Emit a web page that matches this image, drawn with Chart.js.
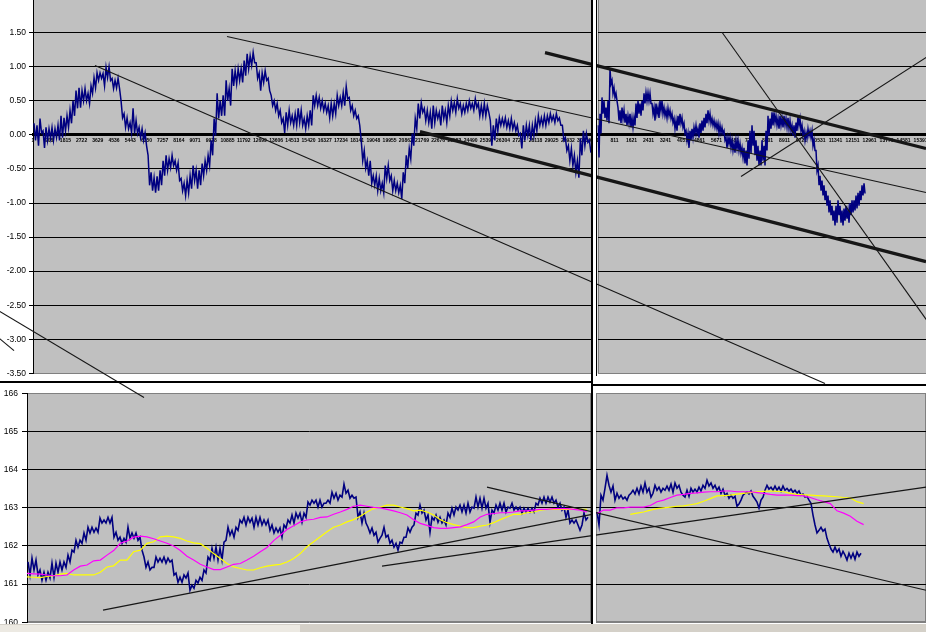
<!DOCTYPE html>
<html><head><meta charset="utf-8">
<script src="https://cdn.jsdelivr.net/npm/chart.js@4/dist/chart.umd.min.js"></script>
<style>
html,body{margin:0;padding:0;background:#fff;width:926px;height:632px;overflow:hidden;position:relative}
canvas{position:absolute;left:-10px;top:-10px;width:946px;height:652px}
.d{position:absolute;background:#000}
.w{position:absolute;background:#fff}
</style></head><body>
<canvas id="bl" width="946" height="652"></canvas>
<canvas id="br" width="946" height="652"></canvas>
<canvas id="tr" width="946" height="652"></canvas>
<canvas id="tl" width="946" height="652"></canvas>
<div class="w" style="left:593px;top:0;width:3px;height:384px"></div>
<div class="w" style="left:593px;top:386px;width:3px;height:238px"></div>
<div class="d" style="left:591px;top:0;width:2px;height:624px"></div>
<div class="d" style="left:596px;top:0;width:1px;height:376px"></div>
<div class="d" style="left:0;top:381px;width:593px;height:2px"></div>
<div class="d" style="left:592px;top:384px;width:334px;height:2px"></div>
<div style="position:absolute;left:0;top:624px;width:926px;height:8px;background:#d4d0c8"></div>
<div style="position:absolute;left:0;top:625px;width:300px;height:7px;background:#ece9e2"></div>
<script>
// ---------- tick labels ----------
const tlTicks = [1,908,1815,2722,3629,4536,5443,6350,7257,8164,9071,9978,10885,11792,12699,13606,14513,15420,16327,17234,18141,19048,19955,20862,21769,22676,23583,24490,25397,26304,27211,28118,29025,29932,30839];
const trTicks = [1,811,1621,2431,3241,4051,4861,5671,6481,7291,8101,8911,9721,10531,11341,12151,12961,13771,14581,15391];

// ---------- top-left spread series (index start / step) ----------
const tlStart = 57, tlStep = 84;
const tlSpread = [
0.17,-0.08,0.14,-0.16,0.24,0.03,0.06,-0.19,0.11,-0.08,0.09,-0.05,0.11,-0.08,0.09,-0.04,0.14,-0.08,0.28,-0.04,
0.25,0.06,0.28,0.11,0.36,0.17,0.50,0.28,0.65,0.39,0.69,0.40,0.65,0.50,0.68,0.50,0.61,0.46,0.72,0.61,
0.84,0.69,0.91,0.80,0.91,0.83,0.90,0.72,0.99,0.84,1.00,0.80,0.83,0.68,0.80,0.69,0.83,0.68,0.50,0.25,
0.31,0.11,0.25,0.09,0.18,0.03,0.39,0.02,0.21,0.02,0.11,-0.04,0.09,-0.08,0.03,-0.16,-0.30,-0.74,-0.55,-0.82,
-0.63,-0.85,-0.61,-0.82,-0.52,-0.74,-0.38,-0.60,-0.30,-0.52,-0.35,-0.48,-0.30,-0.45,-0.38,-0.52,-0.41,-0.67,-0.64,-0.82,
-0.71,-0.89,-0.67,-0.85,-0.60,-0.79,-0.45,-0.67,-0.52,-0.79,-0.52,-0.74,-0.42,-0.60,-0.38,-0.52,-0.30,-0.45,-0.08,-0.30,
0.24,-0.01,0.61,0.24,0.50,0.28,0.58,0.28,0.80,0.50,0.68,0.43,0.97,0.72,0.94,0.75,0.97,0.80,0.97,0.77,
1.09,0.87,1.19,0.97,1.16,1.02,1.21,1.06,1.06,0.83,0.91,0.65,0.91,0.77,0.94,0.80,0.83,0.65,0.58,0.43,
0.50,0.36,0.46,0.28,0.36,0.18,0.24,0.03,0.33,0.14,0.36,0.18,0.28,0.14,0.31,0.14,0.39,0.18,0.36,0.14,
0.24,0.09,0.28,0.14,0.36,0.14,0.58,0.43,0.58,0.43,0.55,0.39,0.50,0.36,0.46,0.33,0.43,0.25,0.46,0.28,
0.46,0.31,0.58,0.43,0.55,0.43,0.62,0.43,0.71,0.53,0.55,0.36,0.43,0.28,0.36,0.24,0.28,0.14,-0.08,-0.38,
-0.23,-0.49,-0.38,-0.60,-0.38,-0.71,-0.60,-0.74,-0.60,-0.82,-0.64,-0.82,-0.71,-0.85,-0.45,-0.64,-0.45,-0.67,-0.60,-0.82,
-0.67,-0.82,-0.71,-0.85,-0.74,-0.94,-0.55,-0.71,-0.30,-0.49,-0.20,-0.35,0.02,-0.16,0.24,0.09,0.46,0.24,0.47,0.33,
0.39,0.21,0.36,0.18,0.33,0.09,0.43,0.18,0.36,0.24,0.33,0.14,0.43,0.24,0.36,0.18,0.43,0.28,0.50,0.36,
0.47,0.33,0.53,0.39,0.46,0.31,0.43,0.33,0.46,0.36,0.50,0.39,0.46,0.36,0.53,0.40,0.46,0.28,0.43,0.28,
0.46,0.28,0.43,0.33,0.21,-0.16,0.14,-0.08,0.24,0.06,0.25,0.14,0.24,0.14,0.25,0.11,0.21,0.09,0.24,0.09,
0.18,0.06,0.14,-0.01,0.02,-0.20,0.14,-0.08,0.14,-0.01,0.14,-0.08,0.14,-0.01,0.21,0.06,0.28,0.14,0.25,0.14,
0.28,0.14,0.28,0.18,0.31,0.21,0.28,0.18,0.31,0.21,0.25,0.14,0.14,-0.08,-0.04,-0.23,-0.16,-0.38,-0.20,-0.45,
-0.30,-0.55,-0.38,-0.63,-0.05,-0.30,0.06,-0.16,0.02,-0.11,-0.08,-0.26];

// ---------- top-right spread series ----------
const trStart = 25, trStep = 47.64;
const trSpread = [
0.14,-0.33,0.31,0.02,0.55,0.31,0.50,0.25,0.40,0.21,0.50,0.17,0.97,0.75,0.80,0.61,0.69,0.55,0.61,0.50,
0.40,0.21,0.36,0.17,0.40,0.24,0.36,0.18,0.31,0.14,0.28,0.17,0.31,0.11,0.25,0.11,0.25,0.14,0.46,0.25,
0.50,0.31,0.46,0.28,0.50,0.36,0.61,0.46,0.62,0.50,0.62,0.50,0.61,0.46,0.46,0.31,0.40,0.21,0.46,0.31,
0.40,0.25,0.50,0.36,0.50,0.31,0.40,0.28,0.36,0.25,0.39,0.28,0.36,0.24,0.31,0.18,0.24,0.09,0.21,0.06,
0.28,0.14,0.31,0.17,0.25,0.11,0.17,0.02,0.06,-0.08,0.02,-0.19,0.06,-0.08,0.09,-0.04,0.11,0.02,0.14,0.02,
0.09,-0.04,0.17,0.03,0.21,0.06,0.25,0.11,0.31,0.17,0.36,0.21,0.31,0.17,0.24,0.14,0.21,0.11,0.18,0.09,
0.17,0.03,0.14,0.03,0.11,0.02,0.06,-0.08,-0.04,-0.19,-0.04,-0.13,-0.04,-0.19,-0.08,-0.23,-0.13,-0.26,-0.08,-0.20,
-0.08,-0.23,-0.13,-0.27,-0.19,-0.33,-0.19,-0.42,-0.23,-0.45,-0.08,-0.35,0.06,-0.27,0.14,-0.16,0.06,-0.30,-0.08,-0.38,
-0.16,-0.45,-0.23,-0.45,-0.08,-0.38,-0.16,-0.45,0.06,-0.23,0.28,-0.01,0.24,0.09,0.33,0.14,0.33,0.18,0.28,0.14,
0.24,0.09,0.28,0.14,0.25,0.11,0.28,0.14,0.24,0.11,0.25,0.09,0.21,0.06,0.14,-0.01,0.14,-0.04,0.18,0.06,
0.28,0.14,0.24,0.06,0.14,-0.01,0.06,-0.08,0.03,-0.05,0.09,-0.01,0.06,-0.04,0.06,-0.16,-0.08,-0.23,-0.23,-0.52,
-0.45,-0.74,-0.60,-0.82,-0.67,-0.89,-0.74,-0.96,-0.82,-1.04,-0.89,-1.14,-0.96,-1.18,-1.04,-1.26,-1.11,-1.33,-1.04,-1.29,
-0.96,-1.18,-1.04,-1.29,-1.11,-1.33,-1.08,-1.26,-1.04,-1.23,-1.11,-1.29,-1.00,-1.18,-0.96,-1.14,-0.96,-1.11,-0.89,-1.08,
-0.85,-1.04,-0.82,-0.96,-0.74,-0.89,-0.71,-0.86];

// ---------- bottom-left price, moving averages ----------
const blStart = 56, blStep = 112;
const blPrice = [
161.58,161.24,161.68,161.37,161.63,161.24,161.37,161.10,161.31,161.10,
161.31,161.16,161.55,161.18,161.55,161.31,161.58,161.37,161.58,161.44,
161.76,161.58,161.89,161.84,162.15,161.97,162.15,162.07,162.34,162.15,
162.49,162.34,162.49,162.36,162.47,162.36,162.73,162.60,162.68,162.60,
162.75,162.60,162.75,162.23,162.36,162.15,162.23,162.07,162.20,162.10,
162.49,162.20,162.34,162.20,162.34,162.15,162.23,161.89,161.71,161.44,
161.58,161.37,161.44,161.44,161.71,161.58,161.68,161.58,161.71,161.55,
161.68,161.58,161.63,161.24,161.29,161.05,161.18,161.05,161.24,161.16,
161.29,160.84,160.97,160.89,161.10,161.03,161.18,161.10,161.37,161.29,
161.71,161.63,161.94,161.68,161.97,161.63,161.94,161.63,162.10,162.15,
162.49,162.28,162.41,162.23,162.49,162.41,162.68,162.60,162.75,162.55,
162.75,162.62,162.73,162.49,162.75,162.55,162.75,162.55,162.68,162.55,
162.68,162.41,162.55,162.34,162.47,162.36,162.47,162.23,162.55,162.47,
162.68,162.60,162.81,162.60,162.86,162.73,162.86,162.62,162.86,162.75,
163.15,163.07,163.20,163.12,163.20,163.02,163.20,163.02,163.12,163.12,
163.20,163.12,163.41,163.25,163.38,163.20,163.33,163.28,163.62,163.38,
163.46,163.25,163.33,163.25,163.28,162.75,162.89,162.60,162.86,162.60,
162.49,162.34,162.47,162.28,162.36,162.10,162.20,162.28,162.49,162.23,
162.28,162.07,162.15,161.97,162.07,161.89,162.10,162.07,162.23,162.23,
162.47,162.36,162.49,162.55,162.86,162.81,163.07,162.86,162.94,162.68,
162.81,162.36,162.75,162.68,162.81,162.62,162.75,162.60,162.68,162.55,
162.86,162.75,162.99,162.81,163.02,162.94,163.07,162.89,163.07,162.86,
163.12,162.89,163.02,162.99,163.28,163.02,163.25,162.99,163.25,162.99,
163.12,162.62,162.94,162.86,163.07,162.94,163.12,162.94,163.12,162.89,
163.02,162.99,163.12,162.94,163.02,162.94,163.02,162.86,162.99,162.89,
162.99,162.89,162.99,162.89,163.12,163.07,163.25,163.12,163.28,163.12,
163.28,163.15,163.28,163.12,163.20,163.02,163.12,162.94,163.02,162.75,
162.94,162.60,162.68,162.60,162.68,162.55,162.41,162.55,162.86,162.68,
162.75];
const maStep = 373.3;
const blMaStart = 0;
const blMagenta = [
161.28,161.27,161.26,161.24,161.22,161.22,161.24,161.37,161.47,161.50,
161.61,161.63,161.76,161.88,162.07,162.13,162.23,162.26,162.24,162.19,
162.13,162.07,162.00,161.88,161.73,161.63,161.52,161.45,161.38,161.38,
161.45,161.52,161.54,161.63,161.73,161.85,161.96,162.14,162.28,162.43,
162.53,162.63,162.68,162.70,162.75,162.76,162.83,162.89,162.96,163.04,
163.07,163.04,163.01,163.00,162.96,162.92,162.87,162.81,162.69,162.59,
162.54,162.48,162.46,162.46,162.48,162.50,162.56,162.63,162.76,162.83,
162.85,162.87,162.87,162.89,162.92,162.92,162.94,162.96,162.96,162.98,
162.98,162.98,162.96,162.94,162.89];
const blYellow = [
161.19,161.18,161.17,161.20,161.22,161.26,161.28,161.24,161.24,161.24,
161.24,161.31,161.45,161.48,161.63,161.63,161.85,161.89,162.07,162.11,
162.24,162.26,162.24,162.20,162.13,162.08,162.06,161.94,161.80,161.67,
161.54,161.45,161.41,161.37,161.37,161.43,161.47,161.50,161.52,161.58,
161.67,161.80,161.98,162.11,162.24,162.37,162.49,162.55,162.63,162.69,
162.78,162.89,162.98,163.02,163.07,163.07,163.02,162.98,162.92,162.94,
162.89,162.81,162.69,162.61,162.56,162.52,162.48,162.48,162.52,162.55,
162.61,162.69,162.76,162.83,162.83,162.87,162.89,162.94,162.96,162.96,
162.96,162.96,162.96,162.96,162.96];

// ---------- bottom-right price, moving averages ----------
const brStart = 56, brStep = 112;
const brPrice = [
162.89,162.55,163.33,163.20,163.51,163.85,163.59,163.41,163.57,163.20,
163.38,163.25,163.33,163.23,163.28,163.20,163.33,163.38,163.46,163.36,
163.51,163.36,163.57,163.41,163.65,163.41,163.51,163.28,163.38,163.59,
163.46,163.54,163.41,163.51,163.46,163.57,163.46,163.62,163.41,163.65,
163.51,163.59,163.41,163.33,163.28,163.46,163.30,163.51,163.41,163.49,
163.41,163.54,163.44,163.59,163.51,163.72,163.57,163.65,163.51,163.59,
163.46,163.54,163.38,163.49,163.33,163.38,163.25,163.33,163.25,163.30,
163.04,163.10,163.20,163.33,163.38,163.41,163.36,163.44,163.30,163.23,
163.15,162.99,163.20,163.28,163.46,163.59,163.49,163.54,163.46,163.57,
163.46,163.54,163.44,163.57,163.46,163.51,163.44,163.49,163.41,163.46,
163.38,163.44,163.33,163.36,163.28,163.30,163.20,163.12,162.81,162.55,
162.34,162.41,162.49,162.39,162.44,162.20,162.05,161.92,161.84,161.97,
161.84,161.92,161.73,161.86,161.76,161.63,161.81,161.68,161.81,161.65,
161.84,161.73,161.81];
const brMaStart = 56;
const brMagenta = [
162.85,162.94,162.94,163.00,163.00,163.02,163.02,163.02,163.06,163.16,
163.20,163.27,163.33,163.35,163.38,163.39,163.41,163.42,163.42,163.44,
163.44,163.42,163.42,163.42,163.40,163.38,163.35,163.33,163.33,163.33,
163.32,163.31,163.27,163.21,163.16,163.11,162.92,162.86,162.78,162.65,
162.56];
const brYellowStart = 1921;
const brYellow = [
162.83,162.86,162.89,162.94,162.98,163.00,163.02,163.04,163.05,163.08,
163.11,163.17,163.24,163.31,163.32,163.33,163.36,163.38,163.40,163.42,
163.43,163.44,163.43,163.42,163.38,163.35,163.34,163.33,163.32,163.31,
163.30,163.29,163.27,163.26,163.16,163.11];

// ---------- trend lines (index, value) ----------
const tlTrendA = [[3470, 1.017], [44322, -3.651]];
const tlTrendB = [[10857, 1.443], [49974, -0.847]];
const tlTrendC = [[21658, 0.048], [49974, -1.860]];
const tlTrendD = [[28653, 1.208], [49974, -0.201]];
const tlTrendE = [[-2685, -2.462], [6213, -3.856]];
const tlTrendF = [[-2405, -2.873], [-1062, -3.166]];
const trTrendG = [[5932, 1.506], [16696, -3.159]];
const trTrendH = [[6837, -0.612], [16797, 1.361]];
const blTrendR = [[4256, 160.32], [31640, 162.83]];
const brTrendS = [[-6104, 163.54], [18480, 160.84]];
const brTrendT = [[-11984, 161.47], [18480, 163.54]];

// ---------- helpers ----------
Chart.defaults.color = '#000';
Chart.defaults.font.family = "'Liberation Sans', Arial, sans-serif";
Chart.defaults.animation = false;

const plotBg = {
  id: 'plotBg',
  beforeDraw(chart) {
    const {ctx, chartArea: a} = chart;
    ctx.save();
    ctx.fillStyle = '#c0c0c0';
    ctx.fillRect(a.left, a.top, a.right - a.left, a.bottom - a.top);
    ctx.strokeStyle = '#808080';
    ctx.lineWidth = 1;
    ctx.strokeRect(Math.round(a.left) + 0.5, Math.round(a.top) + 0.5, Math.round(a.right - a.left) - 1, Math.round(a.bottom - a.top) - 1);
    ctx.restore();
  }
};
const pts = (vals, start, step) => vals.map((v, i) => ({x: start + i * step, y: v}));
// endpoints given in descending x order so the whole segment is always drawn
const seg = (p) => [{x: p[1][0], y: p[1][1]}, {x: p[0][0], y: p[0][1]}];
const series = (data, color, width, order) => ({type: 'line', data, borderColor: color, borderWidth: width, pointRadius: 0, tension: 0, order});
const trend = (p, width) => Object.assign(series(seg(p), '#161616', width, 0), {clip: false});

function yScale(min, max, step, width, showLabels, labelFmt, tickLen, pad) {
  return {
    type: 'linear', min, max, position: 'left',
    afterFit: s => { s.width = width; },
    ticks: {display: showLabels, stepSize: step, padding: pad, font: {size: 8.5}, callback: labelFmt},
    grid: {color: c => (c.tick && (c.tick.value === min || c.tick.value === max)) ? '#808080' : '#000',
           tickColor: '#000', tickLength: tickLen, drawTicks: showLabels, lineWidth: 1},
    border: {display: showLabels, color: '#000', width: 1}
  };
}
function xZero(min, max, ticks) {
  return {
    type: 'linear', min, max, position: {y: 0},
    afterBuildTicks: s => { s.ticks = ticks.map(v => ({value: v})); },
    ticks: {autoSkip: false, maxRotation: 0, padding: 3, font: {size: 5, weight: 'bold'}, callback: v => String(v)},
    grid: {display: false, drawTicks: false},
    border: {display: true, color: '#000', width: 3}
  };
}
function make(id, datasets, scales, padding) {
  return new Chart(document.getElementById(id), {
    data: {datasets},
    options: {responsive: false, devicePixelRatio: 1, animation: false, events: [],
      layout: {padding},
      plugins: {legend: {display: false}, tooltip: {enabled: false}},
      scales},
    plugins: [plotBg]
  });
}
const spreadFmt = v => (v === 2 ? '' : v.toFixed(2));

// bottom-left
make('bl', [
  series(pts(blPrice, blStart, blStep), '#000080', 1.6, 3),
  series(pts(blMagenta, blMaStart, maStep), '#ff00ff', 1.2, 2),
  series(pts(blYellow, blMaStart, maStep), '#ffff00', 1.2, 2),
  trend(blTrendR, 1.2)
], {
  x: {type: 'linear', min: 0, max: 31584, display: false},
  y: yScale(160, 166, 1, 27, true, v => String(v), 5, 4)
}, {left: 10, right: 345, top: 403.3, bottom: 19.7});

// bottom-right
make('br', [
  series(pts(brPrice, brStart, brStep), '#000080', 1.6, 3),
  series(pts(brMagenta, brMaStart, maStep), '#ff00ff', 1.2, 2),
  series(pts(brYellow, brYellowStart, maStep), '#ffff00', 1.2, 2),
  trend(brTrendS, 1.2),
  trend(brTrendT, 1.2)
], {
  x: {type: 'linear', min: 0, max: 18480, display: false},
  y: yScale(160, 166, 1, 0, false, v => '', 0, 0)
}, {left: 606, right: 10, top: 403.3, bottom: 19.7});

// top-right
make('tr', [
  series(pts(trSpread, trStart, trStep), '#000080', 1.5, 3),
  trend(trTrendG, 1.1),
  trend(trTrendH, 1.1)
], {
  x: xZero(1, 15650, trTicks),
  y: yScale(-3.5, 2, 0.5, 0, false, v => '', 0, 0)
}, {left: 607.5, right: 10, top: 8.64, bottom: 268.7});

// top-left
make('tl', [
  series(pts(tlSpread, tlStart, tlStep), '#000080', 1.5, 3),
  trend(tlTrendA, 1.1),
  trend(tlTrendB, 1.1),
  trend(tlTrendC, 3.2),
  trend(tlTrendD, 3.2),
  trend(tlTrendE, 1.1),
  trend(tlTrendF, 1.1)
], {
  x: xZero(1, 31283, tlTicks),
  y: yScale(-3.5, 2, 0.5, 33, true, spreadFmt, 4, 3)
}, {left: 10, right: 344, top: 8.64, bottom: 268.7});
</script>
</body></html>
